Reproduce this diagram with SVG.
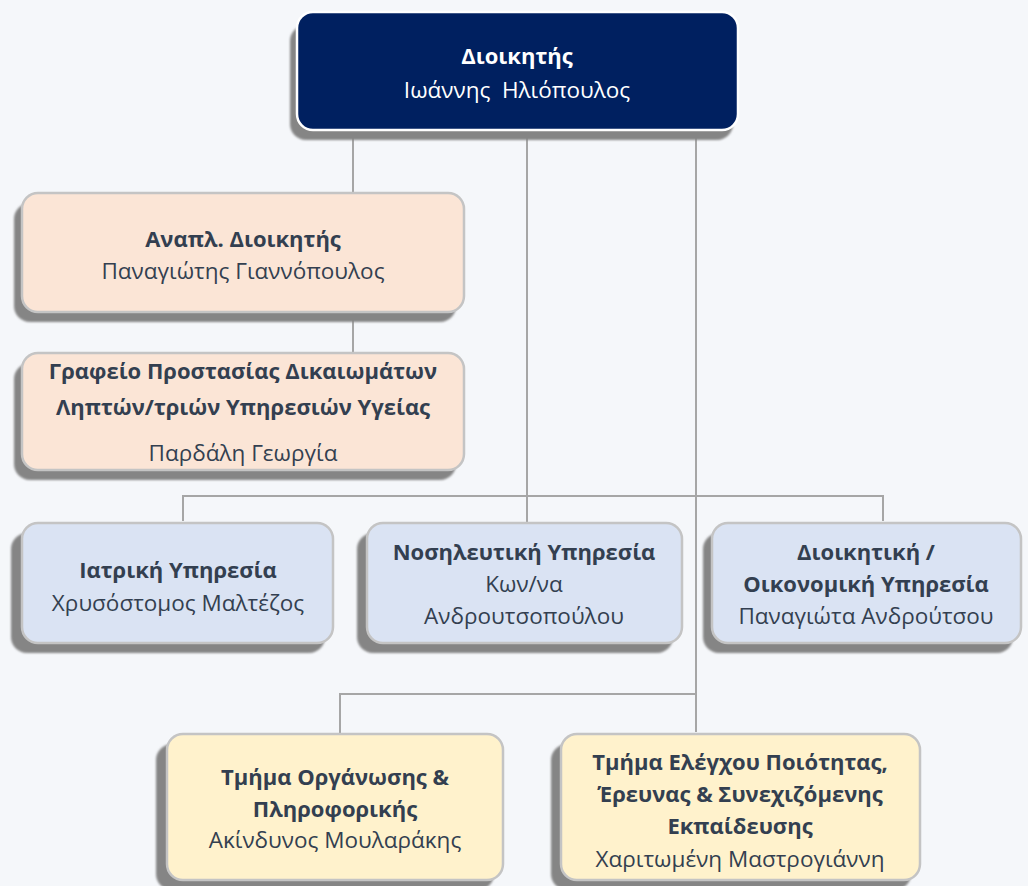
<svg xmlns="http://www.w3.org/2000/svg" width="1028" height="886" viewBox="0 0 1028 886">
<defs>
<filter id="blur" x="-5%" y="-5%" width="110%" height="110%"><feGaussianBlur stdDeviation="1.2"/></filter>
</defs>
<style>
.sh{fill:#858585;filter:url(#blur)}
.box{stroke:#C4C4C4;stroke-width:2.5}
.navy{fill:#002060;stroke:#FFFFFF;stroke-width:2.5}
.peach{fill:#FBE5D6}
.blue{fill:#DAE3F3}
.yel{fill:#FFF2CC}
text{font-family:"Open Sans","Noto Sans","DejaVu Sans",sans-serif;font-size:22.5px;text-anchor:middle;fill:#333F50;white-space:pre}
.b{font-weight:bold;font-size:22px}
.w{fill:#FFFFFF}
.con{fill:none;stroke:#A6A6A6;stroke-width:2}
</style>
<rect width="1028" height="886" fill="#F5F7FA"/>
<g id="connectors">
<path class="con" d="M353 130V353"/>
<path class="con" d="M527 130V522"/>
<path class="con" d="M696 130V732"/>
<path class="con" d="M183 521V496H883V521"/>
<path class="con" d="M340 733V694H696"/>
</g>
<g id="director">
<rect class="sh" x="290" y="25" width="443" height="115" rx="16"/>
<rect class="navy" x="297" y="12" width="441" height="118" rx="16"/>
<text class="b w" x="517" y="64">Διοικητής</text>
<text class="w" x="517" y="98" xml:space="preserve">Ιωάννης  Ηλιόπουλος</text>
</g>
<g id="deputy">
<rect class="sh" x="14" y="203" width="442" height="119" rx="16"/>
<rect class="box peach" x="22" y="193" width="442" height="119" rx="16"/>
<text class="b" x="243" y="247">Αναπλ. Διοικητής</text>
<text x="243" y="279">Παναγιώτης Γιαννόπουλος</text>
</g>
<g id="rights-office">
<rect class="sh" x="14" y="363" width="442" height="117" rx="16"/>
<rect class="box peach" x="22" y="353" width="442" height="117" rx="16"/>
<text class="b" x="243" y="379">Γραφείο Προστασίας Δικαιωμάτων</text>
<text class="b" x="243" y="415">Ληπτών/τριών Υπηρεσιών Υγείας</text>
<text x="243" y="461">Παρδάλη Γεωργία</text>
</g>
<g id="medical">
<rect class="sh" x="11" y="533" width="314" height="120" rx="16"/>
<rect class="box blue" x="22" y="523" width="311" height="120" rx="16"/>
<text class="b" x="178" y="578">Ιατρική Υπηρεσία</text>
<text x="178" y="611">Χρυσόστομος Μαλτέζος</text>
</g>
<g id="nursing">
<rect class="sh" x="357" y="533" width="316" height="120" rx="16"/>
<rect class="box blue" x="367" y="523" width="315" height="120" rx="16"/>
<text class="b" x="524" y="560">Νοσηλευτική Υπηρεσία</text>
<text x="524" y="592">Κων/να</text>
<text x="524" y="624">Ανδρουτσοπούλου</text>
</g>
<g id="admin">
<rect class="sh" x="703" y="533" width="310" height="120" rx="16"/>
<rect class="box blue" x="712" y="523" width="309" height="120" rx="16"/>
<text class="b" x="866" y="560">Διοικητική /</text>
<text class="b" x="866" y="592">Οικονομική Υπηρεσία</text>
<text x="866" y="624">Παναγιώτα Ανδρούτσου</text>
</g>
<g id="it">
<rect class="sh" x="156" y="744" width="338" height="146" rx="16"/>
<rect class="box yel" x="167" y="734" width="336" height="146" rx="16"/>
<text class="b" x="335" y="785">Τμήμα Οργάνωσης &amp;</text>
<text class="b" x="335" y="817">Πληροφορικής</text>
<text x="335" y="848">Ακίνδυνος Μουλαράκης</text>
</g>
<g id="quality">
<rect class="sh" x="551" y="744" width="360" height="146" rx="16"/>
<rect class="box yel" x="561" y="734" width="359" height="146" rx="16"/>
<text class="b" x="740" y="770">Τμήμα Ελέγχου Ποιότητας,</text>
<text class="b" x="740" y="802">Έρευνας &amp; Συνεχιζόμενης</text>
<text class="b" x="740" y="834">Εκπαίδευσης</text>
<text x="740" y="867">Χαριτωμένη Μαστρογιάννη</text>
</g>
</svg>
